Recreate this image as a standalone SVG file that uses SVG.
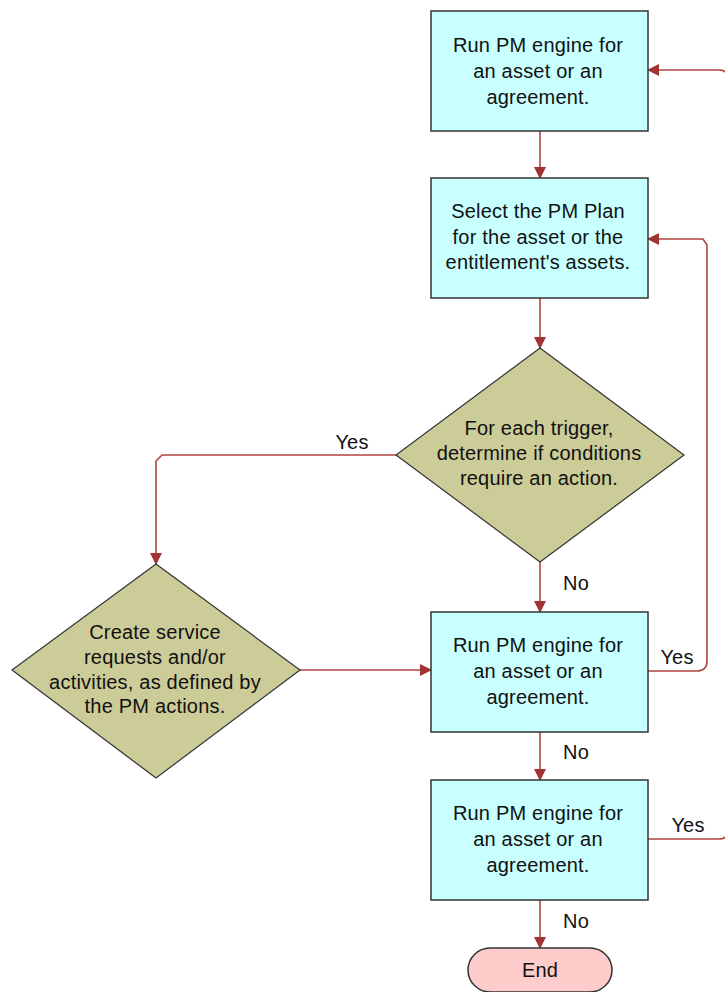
<svg xmlns="http://www.w3.org/2000/svg" width="725" height="992" viewBox="0 0 725 992">
<style>
.box{fill:#c8ffff;stroke:#333;stroke-width:1.5}
.dia{fill:#cccc99;stroke:#333;stroke-width:1.2}
.term{fill:#ffcccc;stroke:#333;stroke-width:1.5}
.t{font-family:"Liberation Sans",Arial,sans-serif;font-size:20px;fill:#111;text-anchor:middle;letter-spacing:0.2px}
.c{fill:none;stroke:#b04444;stroke-width:1.6}
</style>
<defs>
<marker id="ah" markerWidth="12" markerHeight="12" refX="11" refY="6" orient="auto" markerUnits="userSpaceOnUse">
<path d="M0,0 L12,6 L0,12 Z" fill="#a33333"/>
</marker>
</defs>
<rect width="725" height="992" fill="#fff"/>
<g id="connectors">
<path class="c" d="M540,131 V178" marker-end="url(#ah)"/>
<path class="c" d="M540,298 V348" marker-end="url(#ah)"/>
<path class="c" d="M396,455 H162 L156,461 V564" marker-end="url(#ah)"/>
<path class="c" d="M540,562 V612" marker-end="url(#ah)"/>
<path class="c" d="M300,670 H431" marker-end="url(#ah)"/>
<path class="c" d="M648,671 H697 Q707,671 707,661 V245 L703,239 H648" marker-end="url(#ah)"/>
<path class="c" d="M540,732 V780" marker-end="url(#ah)"/>
<path class="c" d="M648,839 H719 Q728,839 728,830 V79 Q728,70 719,70 H648" marker-end="url(#ah)"/>
<path class="c" d="M540,900 V948" marker-end="url(#ah)"/>
<text class="t" x="352" y="449">Yes</text>
<text class="t" x="576" y="590">No</text>
<text class="t" x="677" y="664">Yes</text>
<text class="t" x="576" y="759">No</text>
<text class="t" x="688" y="832">Yes</text>
<text class="t" x="576" y="928">No</text>
</g>
<g id="box1">
<rect class="box" x="431" y="11" width="217" height="120"/>
<text class="t" x="538" y="52">Run PM engine for</text>
<text class="t" x="538" y="78">an asset or an</text>
<text class="t" x="538" y="104">agreement.</text>
</g>
<g id="box2">
<rect class="box" x="431" y="178" width="217" height="120"/>
<text class="t" x="538" y="218">Select the PM Plan</text>
<text class="t" x="538" y="244">for the asset or the</text>
<text class="t" x="538" y="269">entitlement's assets.</text>
</g>
<g id="diamond1">
<polygon class="dia" points="540,348 684,455 540,562 396,455"/>
<text class="t" x="539" y="435">For each trigger,</text>
<text class="t" x="539" y="460">determine if conditions</text>
<text class="t" x="539" y="485">require an action.</text>
</g>
<g id="diamond2">
<polygon class="dia" points="156,564 300,670 156,778 12,670"/>
<text class="t" x="155" y="639">Create service</text>
<text class="t" x="155" y="664">requests and/or</text>
<text class="t" x="155" y="689">activities, as defined by</text>
<text class="t" x="155" y="713">the PM actions.</text>
</g>
<g id="box4">
<rect class="box" x="431" y="612" width="217" height="120"/>
<text class="t" x="538" y="652">Run PM engine for</text>
<text class="t" x="538" y="678">an asset or an</text>
<text class="t" x="538" y="704">agreement.</text>
</g>
<g id="box5">
<rect class="box" x="431" y="780" width="217" height="120"/>
<text class="t" x="538" y="820">Run PM engine for</text>
<text class="t" x="538" y="846">an asset or an</text>
<text class="t" x="538" y="872">agreement.</text>
</g>
<g id="end">
<rect class="term" x="468" y="948" width="144" height="44" rx="22"/>
<text class="t" x="540" y="977">End</text>
</g>
</svg>
